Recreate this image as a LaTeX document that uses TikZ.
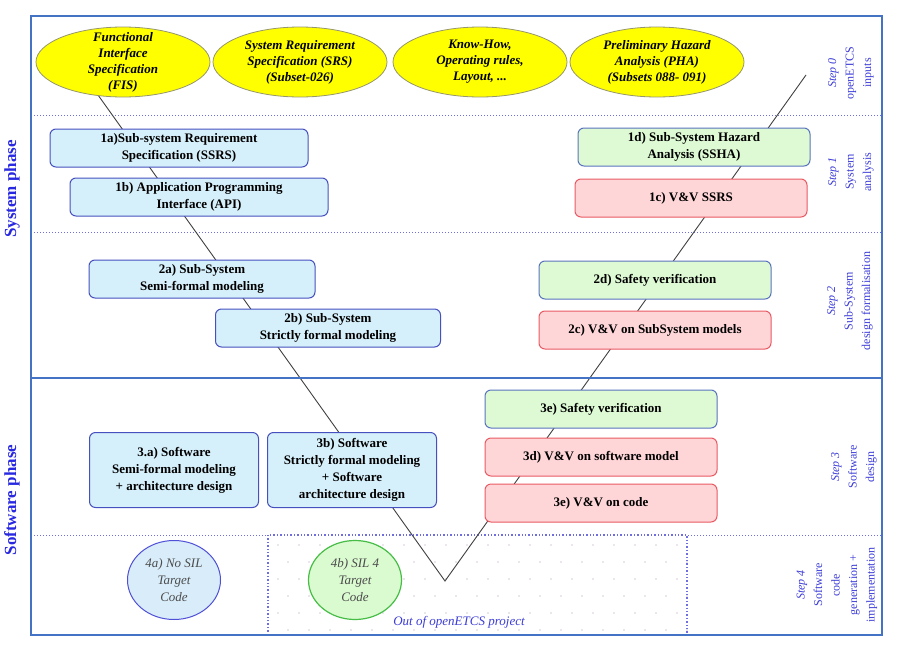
\documentclass[tikz,border=0pt]{standalone}
\usepackage{fontspec}
\setmainfont{Liberation Serif}
\usetikzlibrary{shapes.geometric}
\definecolor{frameblue}{RGB}{68,114,196}
\definecolor{dotblue}{RGB}{110,110,225}
\definecolor{labelblue}{RGB}{60,60,215}
\definecolor{phaseblue}{RGB}{40,40,225}
\definecolor{inputfill}{RGB}{255,255,0}
\definecolor{inputline}{RGB}{150,150,110}
\definecolor{specfill}{RGB}{214,240,251}
\definecolor{specline}{RGB}{70,80,190}
\definecolor{safefill}{RGB}{222,250,212}
\definecolor{safeline}{RGB}{90,115,190}
\definecolor{vvfill}{RGB}{255,214,216}
\definecolor{vvline}{RGB}{232,90,100}
\definecolor{codefill}{RGB}{216,236,250}
\definecolor{codeline}{RGB}{80,80,215}
\definecolor{silfill}{RGB}{218,250,208}
\definecolor{silline}{RGB}{70,190,70}
\definecolor{dotgray}{RGB}{215,205,215}
\tikzset{
	inputell/.style={ellipse, draw=inputline, fill=inputfill, line width=.8pt,
		minimum width=174pt, minimum height=70pt, inner sep=0pt},
	inputtxt/.style={align=center, font=\fontsize{13}{16}\selectfont\bfseries\itshape},
	specbox/.style={rectangle, rounded corners=6pt, draw=specline, fill=specfill,
		line width=1pt, minimum height=38pt, inner sep=0pt, align=center,
		font=\fontsize{13}{17}\selectfont\bfseries},
	safebox/.style={specbox, draw=safeline, fill=safefill, minimum width=232pt},
	vvbox/.style={specbox, draw=vvline, fill=vvfill, minimum width=232pt},
	codeell/.style={ellipse, draw=codeline, fill=codefill, line width=1pt,
		minimum width=93pt, minimum height=79pt, inner sep=0pt},
	silell/.style={codeell, draw=silline, fill=silfill, line width=1.2pt},
	codetxt/.style={align=center, text=black!70, font=\fontsize{13}{17}\selectfont\itshape},
	steplabel/.style={rotate=90, align=center, text=labelblue,
		font=\fontsize{12}{17.5}\selectfont},
	phaselabel/.style={rotate=90, text=phaseblue, font=\fontsize{17}{20}\selectfont\bfseries},
	stepsep/.style={draw=dotblue, dotted, line width=1pt},
	vline/.style={draw=black!75, line width=.9pt},
}

\begin{document}
\begin{tikzpicture}[x=1pt, y=-1pt]
	\useasboundingbox (0,0) rectangle (908,659);

	% step separators
	\draw[stepsep] (31,115) -- (882,115);
	\draw[stepsep] (31,232) -- (882,232);
	\draw[stepsep] (31,535) -- (882,535);

	% out of project area
	\fill[white] (268,535) rectangle (687,635);
	\foreach \j in {0,...,5}
		\foreach \i in {0,...,19}
			\fill[dotgray] ({278+21*\i+10*mod(\j,2)},{545+17*\j}) circle (.9);
	\draw[draw=dotblue, dotted, line width=1.4pt] (268,635) -- (268,535) -- (687,535) -- (687,635);
	\node[text=labelblue, font=\fontsize{13}{16}\selectfont\itshape] (outproj) at (459,622) {Out of openETCS project};

	% the V
	\coordinate (vstart) at (98,95);
	\coordinate (vbot) at (445,581);
	\coordinate (vend) at (806,75);
	\draw[vline] (vstart) -- (vbot) -- (vend);

	% frame
	\draw[frameblue, line width=2.2pt] (31,16) rectangle (882,635);
	\draw[frameblue, line width=2pt] (31,378) -- (882,378);

	% step 0 inputs
	\node[inputell] (fis) at (123,62) {};
	\node[inputtxt] at (fis) {Functional\\Interface\\Specification\\(FIS)};
	\node[inputell] (srs) at (300,62) {};
	\node[inputtxt] at (srs) {System Requirement\\Specification (SRS)\\(Subset-026)};
	\node[inputell] (know) at (480,62) {};
	\node[inputtxt] at (know) {Know-How,\\Operating rules,\\Layout, ...};
	\node[inputell] (pha) at (657,62) {};
	\node[inputtxt] at (pha) {Preliminary Hazard\\Analysis (PHA)\\(Subsets 088- 091)};

	% left branch
	\node[specbox, minimum width=258pt] (ssrs) at (179,148) {1a)Sub-system Requirement\\Specification (SSRS)};
	\node[specbox, minimum width=258pt] (api) at (199,197) {1b) Application Programming\\Interface (API)};
	\node[specbox, minimum width=226pt] (semi) at (202,279) {2a) Sub-System\\Semi-formal modeling};
	\node[specbox, minimum width=225pt] (strict) at (328,328) {2b) Sub-System\\Strictly formal modeling};
	\node[specbox, minimum width=169pt, minimum height=75pt] (swsemi) at (174,470) {3.a) Software\\Semi-formal modeling\\+ architecture design};
	\node[specbox, minimum width=169pt, minimum height=75pt] (swstrict) at (352,470) {3b) Software\\Strictly formal modeling\\+ Software\\architecture design};

	% right branch
	\node[safebox] (ssha) at (694,147) {1d) Sub-System Hazard\\Analysis (SSHA)};
	\node[vvbox] (vvssrs) at (691,198) {1c) V\&V SSRS};
	\node[safebox] (safesys) at (655,280) {2d) Safety verification};
	\node[vvbox] (vvsys) at (655,330) {2c) V\&V on SubSystem models};
	\node[safebox] (safesw) at (601,409) {3e) Safety verification};
	\node[vvbox] (vvmodel) at (601,457) {3d) V\&V on software model};
	\node[vvbox] (vvcode) at (601,503) {3e) V\&V on code};

	% step 4 targets
	\node[codeell] (nosil) at (174,580) {};
	\node[codetxt] at (nosil) {4a) No SIL\\Target\\Code};
	\node[silell] (sil) at (355,580) {};
	\node[codetxt] at (sil) {4b) SIL 4\\Target\\Code};

	% step labels
	\node[steplabel] (step0) at (851,73) {\textit{Step 0}\\openETCS\\inputs};
	\node[steplabel] (step1) at (851,172) {\textit{Step 1}\\System\\analysis};
	\node[steplabel] (step2) at (850,301) {\textit{Step 2}\\Sub-System\\design formalisation};
	\node[steplabel] (step3) at (854,467) {\textit{Step 3}\\Software\\design};
	\node[steplabel] (step4) at (837,585) {\textit{Step 4}\\Software\\code\\generation +\\implementation};

	% phases
	\node[phaselabel] (sysphase) at (12,189) {System phase};
	\node[phaselabel] (swphase) at (12,500) {Software phase};
\end{tikzpicture}
\end{document}
